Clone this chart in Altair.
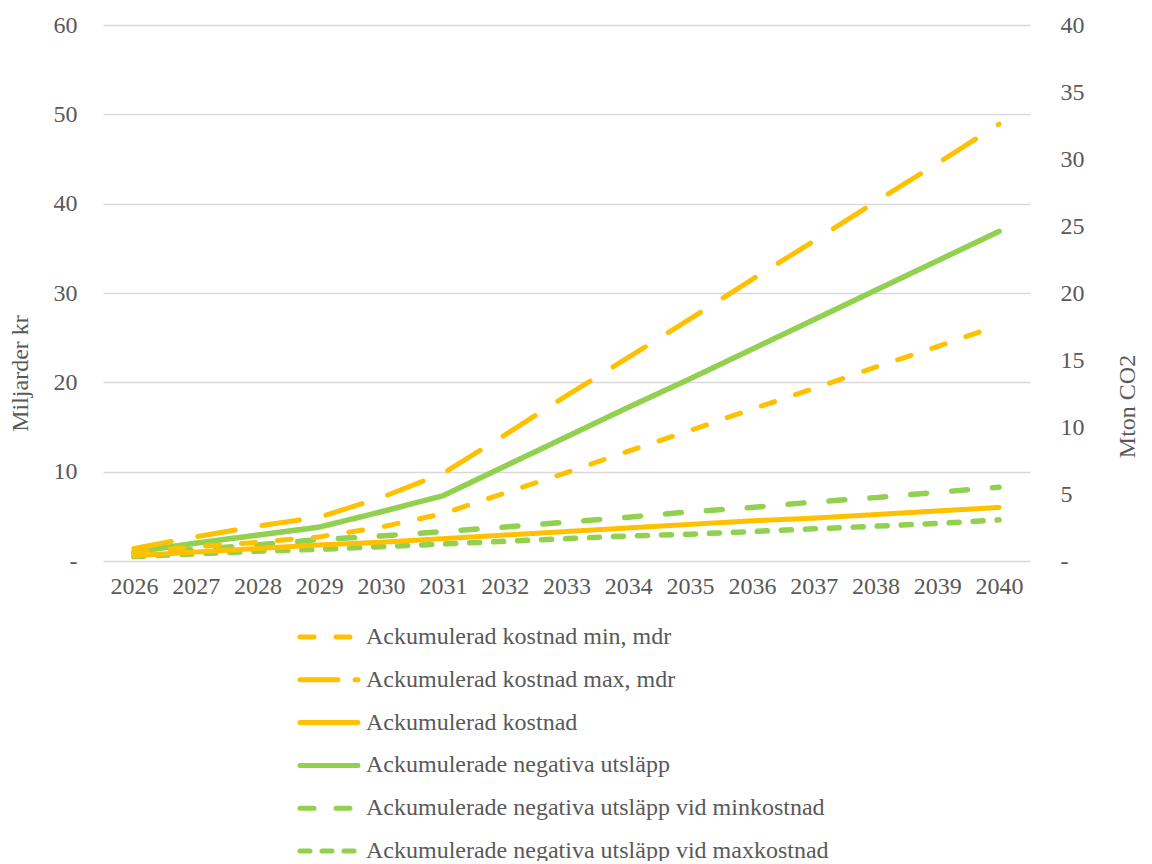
import altair as alt
import pandas as pd

years = [str(y) for y in range(2026, 2041)]

# Miljarder kr (left axis)
kostnad_min = [0.9, 1.6, 2.1, 2.7, 3.8, 5.3, 7.6, 9.9, 12.3, 14.6, 17.0, 19.3, 21.7, 24.0, 26.4]
kostnad_max = [1.4, 2.7, 3.9, 4.9, 7.1, 9.8, 14.1, 18.5, 22.8, 27.1, 31.5, 35.8, 40.2, 44.5, 48.9]
kostnad = [0.6, 1.0, 1.4, 1.8, 2.1, 2.5, 2.9, 3.3, 3.7, 4.1, 4.5, 4.8, 5.2, 5.6, 6.0]

# Mton CO2 (right axis)
neg = [0.67, 1.33, 1.93, 2.53, 3.67, 4.87, 7.07, 9.27, 11.47, 13.6, 15.8, 18.0, 20.2, 22.4, 24.6]
neg_min = [0.6, 0.87, 1.2, 1.6, 1.87, 2.2, 2.53, 2.9, 3.27, 3.67, 4.0, 4.4, 4.73, 5.13, 5.5]
neg_max = [0.33, 0.53, 0.73, 0.87, 1.07, 1.27, 1.47, 1.67, 1.87, 2.0, 2.2, 2.4, 2.6, 2.8, 3.07]

names = [
    "Ackumulerad kostnad min, mdr",
    "Ackumulerad kostnad max, mdr",
    "Ackumulerad kostnad",
    "Ackumulerade negativa utsläpp",
    "Ackumulerade negativa utsläpp vid minkostnad",
    "Ackumulerade negativa utsläpp vid maxkostnad",
]
legend_labels = [
    "Ackumulerad kostnad min, mdr",
    " Ackumulerad kostnad max, mdr",
    "Ackumulerad kostnad",
    "Ackumulerade negativa utsläpp",
    "Ackumulerade negativa utsläpp vid minkostnad",
    "Ackumulerade negativa utsläpp vid maxkostnad",
]
colors = ["#FFC000", "#FFC000", "#FFC000", "#92D050", "#92D050", "#92D050"]
dashes = [[14, 22], [38, 27], [1, 0], [1, 0], [16, 25], [10, 14]]
legend_dashes = [[14, 22], [38, 17], [1, 0], [1, 0], [14, 22], [10, 12]]

left_rows = []
for nm, vals in zip(names[:3], [kostnad_min, kostnad_max, kostnad]):
    for y, v in zip(years, vals):
        left_rows.append({"year": y, "value": v, "series": nm})
right_rows = []
for nm, vals in zip(names[3:], [neg, neg_min, neg_max]):
    for y, v in zip(years, vals):
        right_rows.append({"year": y, "value": v, "series": nm})

df_left = pd.DataFrame(left_rows)
df_right = pd.DataFrame(right_rows)
df_legend = pd.DataFrame({"series": names, "label": legend_labels})

FONT = "Liberation Serif"
GREY = "#595959"
FS = 24

color_enc = alt.Color("series:N", scale=alt.Scale(domain=names, range=colors), legend=None)
dash_enc = alt.StrokeDash("series:N", scale=alt.Scale(domain=names, range=dashes), legend=None)

x_enc = alt.X(
    "year:O",
    sort=years,
    axis=alt.Axis(
        title=None,
        labelAngle=0,
        domain=False,
        ticks=False,
        labelFontSize=FS,
        labelFont=FONT,
        labelColor=GREY,
        labelPadding=13,
        grid=False,
    ),
)

left = alt.Chart(df_left).mark_line(strokeWidth=5, strokeCap="round").encode(
    x=x_enc,
    y=alt.Y(
        "value:Q",
        scale=alt.Scale(domain=[0, 60], nice=False),
        axis=alt.Axis(
            title="Miljarder kr",
            values=[0, 10, 20, 30, 40, 50, 60],
            labelExpr="datum.value == 0 ? '-' : datum.label",
            domain=False,
            ticks=False,
            grid=True,
            gridColor="#D9D9D9",
            gridWidth=1.5,
            labelFontSize=FS,
            labelFont=FONT,
            labelColor=GREY,
            labelPadding=26,
            titleFont=FONT,
            titleFontSize=FS,
            titleFontWeight="normal",
            titleColor=GREY,
            titleAngle=270,
            titleBaseline="middle",
            titleX=-83,
            titleY=348,
        ),
    ),
    color=color_enc,
    strokeDash=dash_enc,
)

right = alt.Chart(df_right).mark_line(strokeWidth=5.5, strokeCap="round").encode(
    x=x_enc,
    y=alt.Y(
        "value:Q",
        scale=alt.Scale(domain=[0, 40], nice=False),
        axis=alt.Axis(
            title="Mton  CO2",
            orient="right",
            values=[0, 5, 10, 15, 20, 25, 30, 35, 40],
            labelExpr="datum.value == 0 ? '-' : datum.label",
            domain=False,
            ticks=False,
            grid=False,
            labelFontSize=FS,
            labelFont=FONT,
            labelColor=GREY,
            labelPadding=30,
            titleFont=FONT,
            titleFontSize=FS,
            titleFontWeight="normal",
            titleColor=GREY,
            titleAngle=270,
            titleBaseline="middle",
            titleX=97,
            titleY=381,
        ),
    ),
    color=color_enc,
    strokeDash=dash_enc,
)

legend_y = alt.Y(
    "series:N",
    sort=names,
    scale=alt.Scale(type="point", domain=names, range=[612, 826], padding=0),
    axis=None,
)

legend_rules = alt.Chart(df_legend).mark_rule(strokeWidth=5, strokeCap="round").encode(
    x=alt.value(197),
    x2=alt.value(255),
    y=legend_y,
    color=color_enc,
    strokeDash=alt.StrokeDash(
        "series:N", scale=alt.Scale(domain=names, range=legend_dashes), legend=None
    ),
)

legend_text = alt.Chart(df_legend).mark_text(
    align="left", baseline="middle", font=FONT, fontSize=FS, color=GREY
).encode(
    x=alt.value(263),
    y=legend_y,
    text="label:N",
)

chart = (
    alt.layer(right, left, legend_rules, legend_text)
    .resolve_scale(y="independent", strokeDash="independent")
    .properties(
        width=927,
        height=536,
        autosize=alt.AutoSizeParams(type="none"),
        padding={"left": 95, "top": 17, "right": 114, "bottom": 300},
        background="white",
    )
    .configure_view(stroke=None)
)

chart.save("out.html", embed_options={"renderer": "svg", "actions": False})
